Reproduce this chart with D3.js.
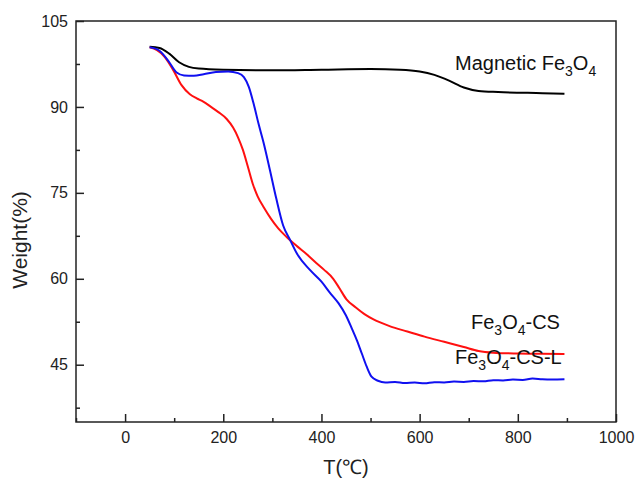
<!DOCTYPE html>
<html>
<head>
<meta charset="utf-8">
<script src="https://cdn.jsdelivr.net/npm/d3@7"></script>
<style>
  body { margin: 0; background: #fff; }
  svg { font-family: "Liberation Sans", Arial, sans-serif; }
</style>
</head>
<body>
<svg width="635" height="479"></svg>
<script>
// TGA curves, temperature (C) vs weight (%)
const BLACK_T = [50, 70, 90, 110, 130, 150, 200, 300, 400, 500, 560, 600, 630, 660, 690, 720, 760, 850, 895];
const BLACK_W = [100.5, 100.3, 99.3, 97.8, 97.0, 96.7, 96.5, 96.4, 96.5, 96.6, 96.5, 96.2, 95.6, 94.6, 93.4, 92.8, 92.6, 92.4, 92.3];

const RED_T = [50, 65, 80, 97, 115, 132, 146, 160, 175, 190, 207, 220, 230, 240, 250, 260, 270, 283, 297, 312, 329, 350, 370, 385, 405, 424, 437, 451, 470, 490, 506, 540, 575, 610, 650, 690, 720, 750, 800, 850, 895];
const RED_W = [100.4, 99.9, 98.8, 96.6, 93.8, 92.2, 91.5, 90.9, 90.0, 89.1, 87.9, 86.4, 84.7, 82.5, 79.6, 76.6, 74.4, 72.4, 70.5, 68.8, 67.3, 65.7, 64.3, 63.1, 61.6, 60.0, 58.3, 56.4, 55.0, 53.7, 52.9, 51.7, 50.8, 49.9, 49.0, 48.1, 47.4, 47.1, 46.95, 46.9, 46.85];

const BLUE_T = [50, 70, 90, 105, 120, 140, 160, 185, 210, 230, 242, 252, 262, 272, 282, 295, 308, 322, 336, 350, 377, 400, 417, 435, 450, 462, 472, 482, 492, 502, 515, 530, 550, 570, 590, 610, 630, 650, 670, 690, 710, 730, 750, 770, 790, 810, 830, 850, 870, 895];
const BLUE_W = [100.4, 99.8, 97.8, 96.0, 95.5, 95.45, 95.7, 96.1, 96.2, 95.9, 95.2, 93.5, 90.5, 87.0, 83.8, 79.0, 74.0, 69.3, 66.8, 64.4, 61.5, 59.5, 57.6, 55.7, 53.6, 51.3, 49.3, 47.0, 44.7, 42.9, 42.2, 41.9, 42.0, 41.8, 41.9, 41.75, 41.95, 41.9, 42.05, 42.0, 42.15, 42.1, 42.3, 42.25, 42.4, 42.35, 42.6, 42.45, 42.4, 42.45];

const X_TICKS = [0, 200, 400, 600, 800, 1000];
const X_MINOR = [-100, 100, 300, 500, 700, 900];
const Y_TICKS = [45, 60, 75, 90, 105];
const Y_MINOR = [37.5, 52.5, 67.5, 82.5, 97.5];

const MARGIN = { left: 76, top: 21, right: 19, bottom: 57 };
const W = 635, H = 479;
const PW = W - MARGIN.left - MARGIN.right;
const PH = H - MARGIN.top - MARGIN.bottom;

const x = d3.scaleLinear().domain([-100, 1000]).range([0, PW]);
const y = d3.scaleLinear().domain([35, 105]).range([PH, 0]);

const svg = d3.select('svg');
const chart = svg.append('g').attr('transform', `translate(${MARGIN.left},${MARGIN.top})`);

const line = d3.line()
    .x(d => x(d[0]))
    .y(d => y(d[1]))
    .curve(d3.curveMonotoneX);

const series = [
    { t: BLACK_T, w: BLACK_W, color: '#000000' },
    { t: RED_T, w: RED_W, color: '#ff1010' },
    { t: BLUE_T, w: BLUE_W, color: '#1010f0' }
];
series.forEach(s => {
    chart.append('path')
        .datum(s.t.map((t, i) => [t, s.w[i]]))
        .attr('fill', 'none')
        .attr('stroke', s.color)
        .attr('stroke-width', 2)
        .attr('d', line);
});

// axes, ticks pointing inward
function styleAxis(g) {
    g.select('.domain').remove();
    g.selectAll('line').attr('stroke', '#222').attr('stroke-width', 1.5);
    g.selectAll('text').attr('fill', '#222').attr('font-size', 16);
}
chart.append('g')
    .attr('transform', `translate(0,${PH})`)
    .call(d3.axisBottom(x).tickValues(X_TICKS).tickFormat(d3.format('d')).tickSize(-8).tickPadding(10))
    .call(styleAxis);
chart.append('g')
    .attr('transform', `translate(0,${PH})`)
    .call(d3.axisBottom(x).tickValues(X_MINOR).tickSize(-4).tickFormat(''))
    .call(styleAxis);
chart.append('g')
    .call(d3.axisLeft(y).tickValues(Y_TICKS).tickSize(-8).tickPadding(8))
    .call(styleAxis);
chart.append('g')
    .call(d3.axisLeft(y).tickValues(Y_MINOR).tickSize(-4).tickFormat(''))
    .call(styleAxis);

chart.append('rect')
    .attr('width', PW).attr('height', PH)
    .attr('fill', 'none')
    .attr('stroke', '#222')
    .attr('stroke-width', 1.5);

// axis titles
svg.append('text')
    .attr('transform', 'translate(27,240) rotate(-90)')
    .attr('text-anchor', 'middle')
    .attr('font-size', 21)
    .attr('fill', '#222')
    .text('Weight(%)');
svg.append('text')
    .attr('x', MARGIN.left + PW / 2)
    .attr('y', 474)
    .attr('text-anchor', 'middle')
    .attr('font-size', 20)
    .attr('fill', '#222')
    .text('T(℃)');

// curve labels with subscripts
function label(xPos, yPos, parts) {
    const t = svg.append('text')
        .attr('x', xPos).attr('y', yPos)
        .attr('font-size', 20)
        .attr('fill', '#111');
    let sub = false;
    parts.forEach(p => {
        const isSub = p[1];
        const span = t.append('tspan').text(p[0]);
        if (isSub) span.attr('font-size', 14);
        if (isSub !== sub) span.attr('dy', isSub ? 6 : -6);
        sub = isSub;
    });
}
label(455, 76, [['Magnetic Fe', 0], ['3', 1], ['O', 0], ['4', 1]]);
label(471, 335, [['Fe', 0], ['3', 1], ['O', 0], ['4', 1], ['-CS', 0]]);
label(455, 370, [['Fe', 0], ['3', 1], ['O', 0], ['4', 1], ['-CS-L', 0]]);
</script>
</body>
</html>
